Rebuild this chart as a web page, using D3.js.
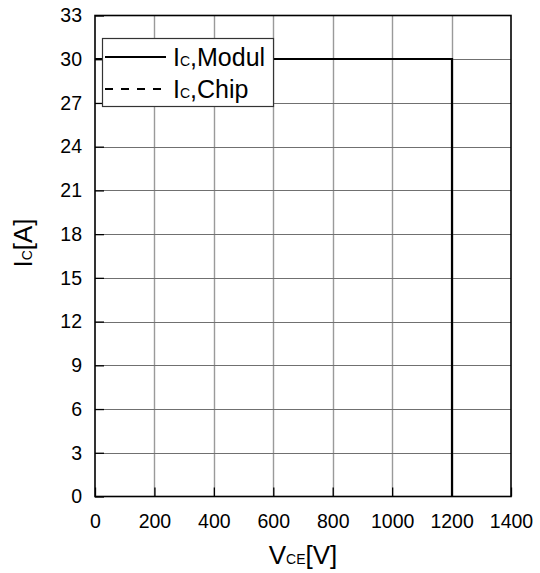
<!DOCTYPE html>
<html><head><meta charset="utf-8">
<script src="https://cdn.jsdelivr.net/npm/d3@7"></script>
<style>body{margin:0;background:#fff}svg{display:block;font-family:"Liberation Sans",Arial,sans-serif}</style>
</head><body><svg id="c" width="540" height="573"></svg>
<script>
const xTicks = [0,200,400,600,800,1000,1200,1400];
const yTicks = [0,3,6,9,12,15,18,21,24,27,30,33];
const vceModul = [0,1200,1200];
const icModul = [30,30,0];
const vceChip = [0,1200,1200];
const icChip = [30,30,0];
const seriesNames = ["Modul","Chip"];

const svg = d3.select("#c");
const L=95, R=511, T=15.5, B=496.5;
const x = d3.scaleLinear().domain([0,1400]).range([L,R]);
const y = d3.scaleLinear().domain([0,33]).range([B,T]);
const px = v => Math.round(v);
const hp = v => Math.round(v)+0.5;

// grid
svg.append("g").selectAll("line").data(xTicks.slice(1,-1)).join("line")
  .attr("x1",d=>hp(x(d))).attr("x2",d=>hp(x(d))).attr("y1",T).attr("y2",B)
  .attr("stroke","#9a9a9a").attr("stroke-width",1.4);
svg.append("g").selectAll("line").data(yTicks.slice(1,-1)).join("line")
  .attr("y1",d=>hp(y(d))).attr("y2",d=>hp(y(d))).attr("x1",L).attr("x2",R)
  .attr("stroke","#707070").attr("stroke-width",1);

// axes with inward ticks
const xa = svg.append("g").attr("transform",`translate(0,${B})`)
  .call(d3.axisBottom(x).tickValues(xTicks).tickSize(-9).tickPadding(18).tickFormat(d3.format("d")));
const ya = svg.append("g").attr("transform",`translate(${L},0)`)
  .call(d3.axisLeft(y).tickValues(yTicks).tickSize(-9).tickPadding(13).tickFormat(d3.format("d")));
[xa,ya].forEach(a=>{
  a.select(".domain").remove();
  a.selectAll(".tick line").attr("stroke","#000").attr("stroke-width",1.3);
  a.selectAll("text").attr("font-size",19.5).attr("fill","#000").attr("font-family","Liberation Sans, Arial, sans-serif");
});

// frame
svg.append("rect").attr("x",L).attr("y",T).attr("width",R-L).attr("height",B-T)
  .attr("fill","none").attr("stroke","#000").attr("stroke-width",1.6);

// data
const line = d3.line().x(d=>px(x(d[0]))).y(d=>px(y(d[1])));
const chip = vceChip.map((v,i)=>[v,icChip[i]]);
const modul = vceModul.map((v,i)=>[v,icModul[i]]);
svg.append("path").attr("d",line(chip)).attr("fill","none").attr("stroke","#000").attr("stroke-width",2).attr("stroke-dasharray","8,8");
svg.append("path").attr("d",line(modul)).attr("fill","none").attr("stroke","#000").attr("stroke-width",2.2);

// legend
const lg = svg.append("g");
lg.append("rect").attr("x",102.5).attr("y",38.5).attr("width",171).attr("height",68)
  .attr("fill","#fff").attr("stroke","#333").attr("stroke-width",1.2);
const rows=[{n:seriesNames[0],dash:null,y:57},{n:seriesNames[1],dash:"8,8",y:89}];
rows.forEach(r=>{
  lg.append("line").attr("x1",105).attr("x2",166).attr("y1",r.y).attr("y2",r.y)
    .attr("stroke","#000").attr("stroke-width",2).attr("stroke-dasharray",r.dash);
  const t = lg.append("text").attr("x",173).attr("y",r.y+9).attr("font-size",25).attr("fill","#000");
  t.append("tspan").text("I");
  t.append("tspan").attr("font-size",14).text("C");
  t.append("tspan").text(","+r.n);
});

// axis titles
const xt = svg.append("text").attr("x",(L+R)/2).attr("y",564).attr("text-anchor","middle").attr("font-size",26).attr("fill","#000");
xt.append("tspan").text("V");
xt.append("tspan").attr("font-size",14).text("CE");
xt.append("tspan").text("[V]");
const yt = svg.append("text").attr("transform","translate(32,243) rotate(-90)").attr("text-anchor","middle").attr("font-size",26).attr("fill","#000");
yt.append("tspan").text("I");
yt.append("tspan").attr("font-size",14).text("C");
yt.append("tspan").text("[A]");
</script></body></html>
